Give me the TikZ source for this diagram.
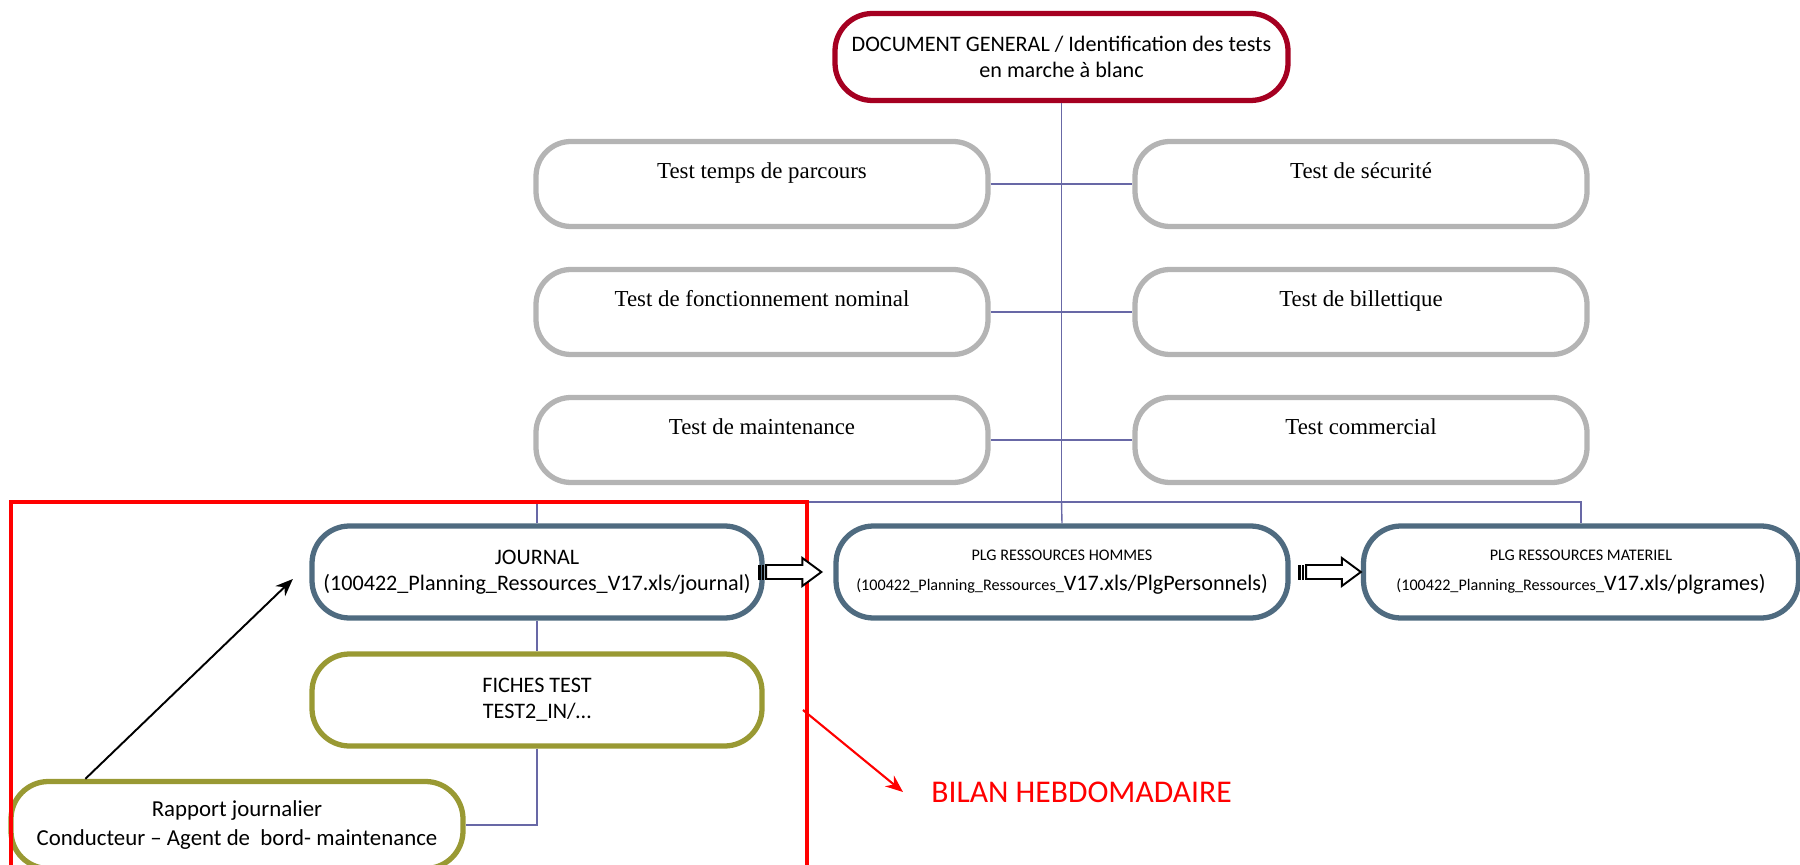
\documentclass[tikz,border=0pt]{standalone}
\usepackage{fontspec}
\setmainfont{Carlito}
\newfontfamily\timesfont{Liberation Serif}
\usetikzlibrary{calc,arrows.meta}

\definecolor{docred}{RGB}{165,0,33}
\definecolor{boxgray}{RGB}{180,180,180}
\definecolor{slate}{RGB}{79,107,128}
\definecolor{olive}{RGB}{153,153,51}
\definecolor{linkblue}{RGB}{104,104,166}

% block arrow with striped tail, from #1 to tip #2 (same height)
\newcommand{\blockarrow}[2]{%
  \draw[line width=1.1pt, fill=white] ($(#1)+(0.17,0.14)$) -- ($(#2)+(-0.38,0.14)$) -- ($(#2)+(-0.38,0.28)$) -- (#2)
    -- ($(#2)+(-0.38,-0.28)$) -- ($(#2)+(-0.38,-0.14)$) -- ($(#1)+(0.17,-0.14)$) -- cycle;
  \fill ($(#1)+(0,-0.15)$) rectangle ($(#1)+(0.06,0.15)$);
  \fill ($(#1)+(0.09,-0.15)$) rectangle ($(#1)+(0.13,0.15)$);
}

\begin{document}
\begin{tikzpicture}[
    box/.style={draw, line width=3pt, fill=white, rounded corners=0.75cm, minimum width=9cm, minimum height=1.84cm, align=center, font=\fontsize{12.6}{15}\selectfont},
    testbox/.style={box, draw=boxgray, minimum width=9.04cm, minimum height=1.7cm, rounded corners=0.7cm, font=\timesfont\fontsize{13}{15}\selectfont, text height=0.3cm, text depth=0.5cm},
    plg/.style={box, draw=slate},
    fiche/.style={box, draw=olive},
    link/.style={draw=linkblue, line width=0.8pt},
    pointer/.style={-{Stealth[length=0.35cm, width=0.28cm]}, line width=1.1pt},
    redarrow/.style={-{Stealth[length=0.35cm, width=0.28cm]}, draw=red, line width=1.2pt}
]
    \useasboundingbox (0,0) rectangle (36,-17.3);

    \node[box, draw=docred, minimum width=9.06cm, minimum height=1.74cm] (doc) at (21.23,-1.14) {DOCUMENT GENERAL / Identification des tests\\en marche à blanc};

    \node[testbox] (parcours) at (15.24,-3.68) {Test temps de parcours};
    \node[testbox] (securite) at (27.22,-3.68) {Test de sécurité};
    \node[testbox] (nominal) at (15.24,-6.24) {Test de fonctionnement nominal};
    \node[testbox] (billet) at (27.22,-6.24) {Test de billettique};
    \node[testbox] (maint) at (15.24,-8.80) {Test de maintenance};
    \node[testbox] (commercial) at (27.22,-8.80) {Test commercial};

    \node[plg] (journal) at (10.74,-11.44) {JOURNAL\\(100422\_Planning\_Ressources\_V17.xls/journal)};
    \node[plg, minimum width=9.04cm] (hommes) at (21.24,-11.44) {{\fontsize{9.2}{11}\selectfont PLG RESSOURCES HOMMES}\\[2pt]{\fontsize{9.2}{11}\selectfont(100422\_Planning\_Ressources\_}V17.xls/PlgPersonnels)};
    \node[plg, minimum width=8.7cm] (materiel) at (31.62,-11.44) {{\fontsize{9.2}{11}\selectfont PLG RESSOURCES MATERIEL}\\[2pt]{\fontsize{9.2}{11}\selectfont(100422\_Planning\_Ressources\_}V17.xls/plgrames)};

    \node[fiche] (fiches) at (10.74,-14.0) {FICHES TEST\\TEST2\_IN/…};
    \node[fiche, minimum width=9.04cm, minimum height=1.74cm, font=\fontsize{13}{16}\selectfont] (rapport) at (4.74,-16.5) {Rapport journalier\\Conducteur – Agent de\ \ bord- maintenance};

    \node[text=red, font=\fontsize{18}{20}\selectfont, anchor=west, inner sep=0pt] (bilan) at (18.62,-15.84) {BILAN HEBDOMADAIRE};

    \coordinate (bus) at (21.23,-10.04);
    \draw[link] (doc.south) -- (bus);
    \draw[link] (journal.north) |- (bus) -| (materiel.north);
    \draw[link] (bus) -- (hommes.north);
    \draw[link] (parcours.east) -- (securite.west);
    \draw[link] (nominal.east) -- (billet.west);
    \draw[link] (maint.east) -- (commercial.west);
    \draw[link] (journal.south) -- (fiches.north);
    \draw[link] (fiches.south) |- (rapport.east);

    \draw[red, line width=1.8pt] (0.22,-10.04) rectangle (16.14,-17.6);

    \coordinate (tail1) at ($(journal.east)+(-0.14,0)$);
    \coordinate (tip1) at ($(hommes.west)+(-0.24,0)$);
    \coordinate (tail2) at ($(hommes.east)+(0.14,0)$);
    \blockarrow{tail1}{tip1}
    \blockarrow{tail2}{materiel.west}

    \coordinate (rapstart) at ($(rapport.north west)+(1.54,0)$);
    \coordinate (jourend) at ($(journal.west)+(-0.33,-0.14)$);
    \draw[pointer] (rapstart) -- (jourend);

    \coordinate (frameedge) at (16.06,-14.2);
    \draw[redarrow] (frameedge) -- ($(bilan.west)+(-0.56,0)$);
\end{tikzpicture}
\end{document}
